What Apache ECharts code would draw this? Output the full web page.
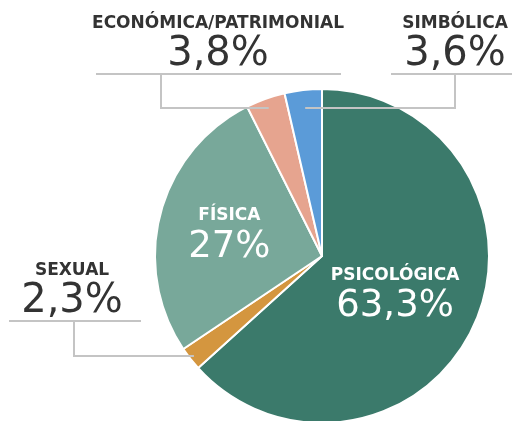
<!DOCTYPE html>
<html>
<head>
<meta charset="utf-8">
<script src="https://cdn.jsdelivr.net/npm/echarts@6/dist/echarts.min.js"></script>
<style>
  html, body { margin: 0; padding: 0; background: #fff; }
  #chart { width: 512px; height: 421px; }
</style>
</head>
<body>
<div id="chart"></div>
<script>
// tipos de violencia (%)
var categories = ['PSICOLÓGICA', 'SEXUAL', 'FÍSICA', 'ECONÓMICA/PATRIMONIAL', 'SIMBÓLICA']
var values = [63.3, 2.3, 27, 3.8, 3.6]
var colors = ['#3b7a6b', '#d4963f', '#78a89a', '#e6a48f', '#5b9bd8']
var insideIdx = [0, 2]

// etiquetas externas: texto, subrayado, bajada y codo
var outerLayout = {
    1: { x: 72, y: 321, left: 9, right: 141, dropX: 74, elbowY: 356 },
    3: { x: 218, y: 74, left: 96, right: 341, dropX: 161, elbowY: 108 },
    4: { x: 455, y: 74, left: 391, right: 520, dropX: 455, elbowY: 108 }
}

var CX = 322, CY = 256, R = 167
var FONT = '"DejaVu Sans", sans-serif'

function fmt(v) {
    return String(v).replace('.', ',') + '%'
}

// angulo medio de cada porcion, desde las 12 en sentido horario
function midDir(i) {
    var total = values.reduce(function (a, b) { return a + b }, 0)
    var before = 0
    for (var k = 0; k < i; k++) before += values[k]
    var a = (before + values[i] / 2) / total * Math.PI * 2
    return [Math.sin(a), -Math.cos(a)]
}

var data = categories.map(function (name, i) {
    var inside = insideIdx.indexOf(i) > -1
    return {
        name: name,
        value: values[i],
        itemStyle: { color: colors[i] },
        label: inside ? {
            position: 'inside',
            offset: i === 0 ? [-6, 3] : [-9, 1],
            formatter: '{n|{b}}\n{v|' + fmt(values[i]) + '}',
            rich: {
                n: { color: '#fff', fontSize: 17, fontWeight: 'bold', fontFamily: FONT, lineHeight: 24 },
                v: { color: '#fff', fontSize: 37, fontFamily: FONT, lineHeight: 38 }
            }
        } : {
            position: 'outside',
            overflow: 'none',
            formatter: '{n|{b}}\n{v|' + fmt(values[i]) + '}',
            rich: {
                n: { color: '#333', fontSize: 17, fontWeight: 'bold', fontFamily: FONT, lineHeight: 24, align: 'center' },
                v: { color: '#333', fontSize: 40, fontFamily: FONT, lineHeight: 38, align: 'center' }
            }
        }
    }
})

// lineas guia: subrayado, bajada y tramo horizontal hasta la porcion
var guides = Object.keys(outerLayout).map(function (key) {
    var lay = outerLayout[key]
    var d = midDir(+key)
    var endX = CX + (lay.elbowY - CY) * d[0] / d[1]
    return {
        type: 'polyline',
        z: 100,
        shape: {
            points: [
                [lay.left, lay.y], [lay.right, lay.y], [lay.dropX, lay.y],
                [lay.dropX, lay.elbowY], [endX, lay.elbowY]
            ]
        },
        style: { stroke: '#c4c4c4', lineWidth: 2, fill: null }
    }
})

var chart = echarts.init(document.getElementById('chart'))
chart.setOption({
    animation: false,
    graphic: guides,
    series: [{
        type: 'pie',
        center: [CX, CY],
        radius: R,
        startAngle: 90,
        clockwise: true,
        itemStyle: { borderColor: '#fff', borderWidth: 2 },
        labelLine: { show: false },
        data: data,
        labelLayout: function (params) {
            var lay = outerLayout[params.dataIndex]
            if (!lay) return {}
            return {
                x: lay.x,
                y: lay.y,
                align: 'center',
                verticalAlign: 'bottom'
            }
        }
    }]
})
</script>
</body>
</html>
